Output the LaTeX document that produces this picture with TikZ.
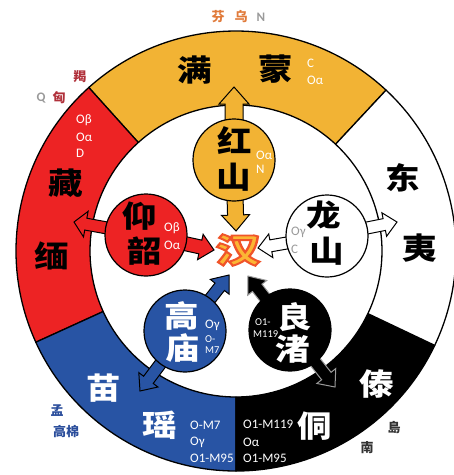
\documentclass[tikz,border=0pt]{standalone}
\usepackage{fontspec}
\usepackage{graphicx}
\setmainfont{Carlito}
\newfontfamily\cjk{Noto Sans CJK SC}
\usetikzlibrary{calc}
\definecolor{ylw}{HTML}{F2B334}
\definecolor{rd}{HTML}{ED2324}
\definecolor{bl}{HTML}{2854A4}
\definecolor{dred}{HTML}{B0303A}
\definecolor{orng}{HTML}{E07A3A}
\definecolor{gry}{HTML}{9A9A9A}
\definecolor{mblue}{HTML}{2A4D9B}
\definecolor{hanfill}{HTML}{FBB634}
\newcommand\wc[1]{\scalebox{1.15}[1]{#1}}
\newcommand\hanc[1]{\scalebox{1.12}[0.85]{#1}}
\newcommand\outlined[1]{\special{pdf:code 2 Tr 2.2 w 0.94 0.33 0.16 RG}#1\special{pdf:code 0 Tr}}
\tikzset{
  seg/.style={draw=black, line width=1.3pt, line join=round},
  circ/.style={circle, draw=black, line width=1.2pt, minimum size=82pt, inner sep=0pt},
  big/.style={font=\cjk\bfseries\fontsize{30}{30}\selectfont, inner sep=0pt},
  small/.style={font=\cjk\bfseries\fontsize{13}{13}\selectfont, inner sep=0pt},
  lab/.style={font=\fontsize{13}{13}\selectfont, anchor=west, inner sep=0pt, text=white},
  tiny/.style={font=\fontsize{10.5}{10.5}\selectfont, anchor=west, inner sep=0pt, text=white},
  arr/.style={line width=1pt, line join=miter, draw=black},
  hanst/.style={font=\cjk\bfseries\fontsize{40}{40}\selectfont, inner sep=0pt},
}
\newcommand\ringsector[3]{%
  \draw[seg,fill=#1] ($(O)+({-(#2)}:220)$) arc[start angle={-(#2)}, end angle={-(#3)}, radius=220]
    -- ($(O)+({-(#3)}:146)$) arc[start angle={-(#3)}, end angle={-(#2)}, radius=146] -- cycle;}
\newcommand\blockarr[6]{%
  \coordinate (bS) at (#2); \coordinate (bT) at (#3);
  \coordinate (bB) at ($(bT)!#6!(bS)$);
  \draw[#1] ($(bS)!#4!90:(bT)$) -- ($(bB)!#4!90:(bT)$) -- ($(bB)!#5!90:(bT)$) -- (bT)
    -- ($(bB)!#5!-90:(bT)$) -- ($(bB)!#4!-90:(bT)$) -- ($(bS)!#4!-90:(bT)$) -- cycle;}
\begin{document}
\begin{tikzpicture}[x=1pt,y=-1pt]
\useasboundingbox (0,0) rectangle (454,475);
\clip (0,0) rectangle (454,475);
\coordinate (O) at (236,251);
% ring
\ringsector{ylw}{47}{132}
\ringsector{rd}{132}{204.5}
\ringsector{bl}{204.5}{270}
\ringsector{black}{270}{334.6}
\ringsector{white}{334.6}{407}
% circle positions
\coordinate (hsC) at (234,160);
\coordinate (ysC) at (146,235);
\coordinate (lsC) at (327,236);
\coordinate (gmC) at (185,331);
\coordinate (lzC) at (290,330);
\coordinate (han) at (238,250);
% arrow tips
\coordinate (tUp) at (234,87);
\coordinate (tHanN) at (236,231);
\coordinate (tW) at (74,222);
\coordinate (tHanW) at (214,250);
\coordinate (tHanE) at (258,248);
\coordinate (tE) at (397,222);
\coordinate (tHanSW) at (229,275);
\coordinate (tSW) at (140,391);
\coordinate (tHanSE) at (248,276);
\coordinate (tSE) at (335,387);
% arrows
\blockarr{arr,fill=ylw}{hsC}{tUp}{9pt}{15pt}{17pt}
\blockarr{arr,fill=ylw}{hsC}{tHanN}{8pt}{14pt}{16pt}
\blockarr{arr,fill=rd}{ysC}{tW}{6pt}{13pt}{12pt}
\blockarr{arr,fill=rd}{ysC}{tHanW}{7pt}{13pt}{14pt}
\blockarr{arr,fill=white}{lsC}{tHanE}{6pt}{12pt}{13pt}
\blockarr{arr,fill=white}{lsC}{tE}{6pt}{12pt}{13pt}
\blockarr{arr,fill=bl}{gmC}{tHanSW}{6pt}{12pt}{15pt}
\blockarr{arr,fill=bl}{gmC}{tSW}{6pt}{12pt}{14pt}
\blockarr{arr,fill=black,draw=gry}{lzC}{tHanSE}{6pt}{12pt}{15pt}
\blockarr{arr,fill=black,draw=gry}{lzC}{tSE}{6pt}{12pt}{14pt}
% circles
\node[circ,fill=ylw] (hs) at (hsC) {};
\node[circ,fill=rd] (ys) at (ysC) {};
\node[circ,fill=white] (ls) at (lsC) {};
\node[circ,fill=bl] (gm) at (gmC) {};
\node[circ,fill=black] (lz) at (lzC) {};
% han with outline
\node[hanst,text=hanfill] (hanT) at (han) {\outlined{\hanc{汉}}};
% ring texts
\node[big] (t1) at (195,70) {\wc{满}};
\node[big] (t2) at (276,69) {\wc{蒙}};
\node[big] (t3) at (66,183) {\wc{藏}};
\node[big] (t4) at (52,256) {\wc{缅}};
\node[big] (t5) at (403,178) {\wc{东}};
\node[big] (t6) at (420,248) {\wc{夷}};
\node[big,text=white] (t7) at (377,384) {\wc{傣}};
\node[big,text=white] (t8) at (315,426) {\wc{侗}};
\node[big,text=white] (t9) at (104,388) {\wc{苗}};
\node[big,text=white] (t10) at (160,425) {\wc{瑶}};
% circle texts
\node[big] (c1) at (235,141) {\wc{红}};
\node[big] (c2) at (234,177) {\wc{山}};
\node[big] (c3) at (140,216) {\wc{仰}};
\node[big] (c4) at (145,251) {\wc{韶}};
\node[big] (c5) at (324,215) {\wc{龙}};
\node[big] (c6) at (327,251) {\wc{山}};
\node[big,text=white] (c7) at (182,316) {\wc{高}};
\node[big,text=white] (c8) at (183,348) {\wc{庙}};
\node[big,text=white] (c9) at (295,317) {\wc{良}};
\node[big,text=white] (c10) at (293,349) {\wc{渚}};
% labels
\node[lab] (l1) at (307,63) {C};
\node[lab] (l2) at (307,80) {Oα};
\node[lab] (l3) at (76,120) {Oβ};
\node[lab] (l4) at (76,137) {Oα};
\node[lab] (l5) at (76,153) {D};
\node[lab] (l6) at (256,155) {Oα};
\node[lab] (l7) at (256,169) {N};
\node[lab] (l8) at (164,228) {Oβ};
\node[lab] (l9) at (164,245) {Oα};
\node[lab,text=gry] (l10) at (291,232) {Oγ};
\node[lab,text=gry] (l11) at (291,249) {C};
\node[lab] (l12) at (205,325) {Oγ};
\node[tiny] (l13) at (205,339) {O-};
\node[tiny] (l14) at (205,350) {M7};
\node[tiny] (l15) at (255,322) {O1-};
\node[tiny] (l16) at (253,334) {M119};
\node[lab] (l17) at (243,424) {O1-M119};
\node[lab] (l18) at (243,442) {Oα};
\node[lab] (l19) at (243,458) {O1-M95};
\node[lab] (l20) at (190,425) {O-M7};
\node[lab] (l21) at (190,442) {Oγ};
\node[lab] (l22) at (190,458) {O1-M95};
% outside
\node[small,text=orng] (o1) at (218,17) {芬};
\node[small,text=orng] (o2) at (241,17) {乌};
\node[font=\bfseries\fontsize{13}{13}\selectfont,text=gry,inner sep=0pt] (o3) at (261,17) {N};
\node[small,text=dred] (o4) at (80,77) {羯};
\node[font=\bfseries\fontsize{13}{13}\selectfont,text=gry,inner sep=0pt] (o5) at (41,98) {Q};
\node[small,text=dred] (o6) at (59,98) {匈};
\node[small,text=mblue] (o7) at (57,411) {孟};
\node[small,text=mblue] (o8) at (66,431) {高棉};
\node[small,text=black!80] (o9) at (394,428) {島};
\node[small,text=black!80] (o10) at (367,448) {南};
\end{tikzpicture}
\end{document}
